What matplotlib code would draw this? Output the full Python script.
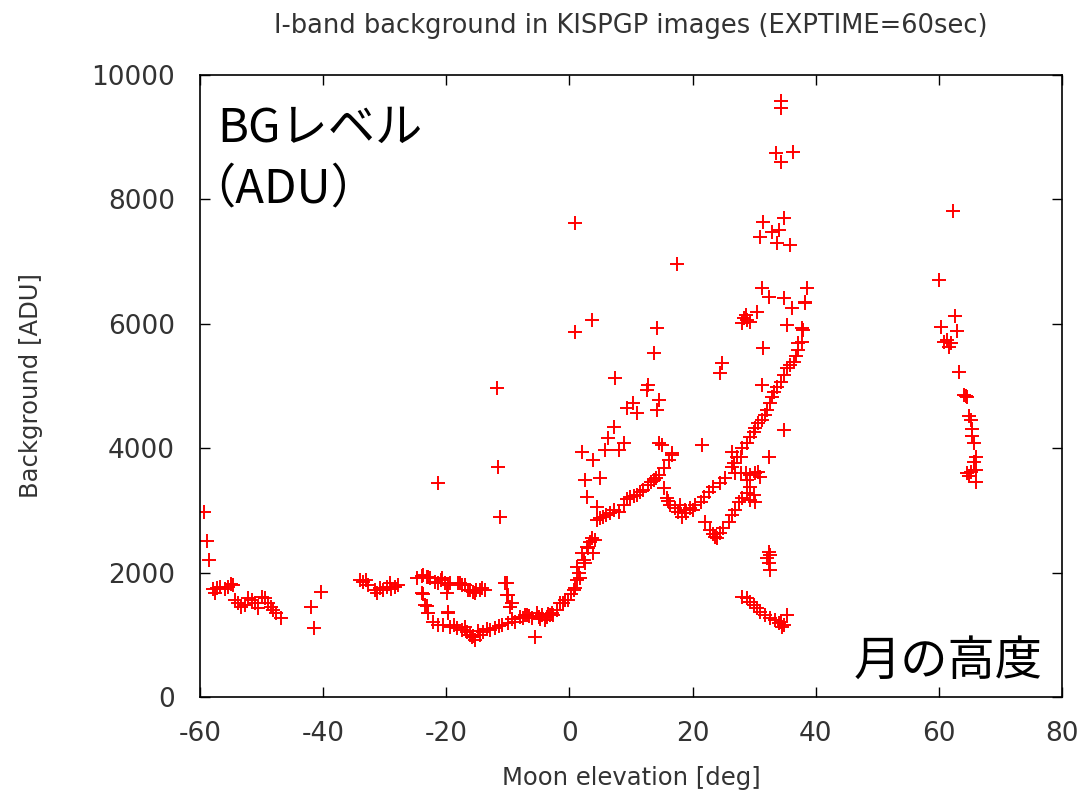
import matplotlib
matplotlib.use("Agg")
import matplotlib.pyplot as plt

# Moon elevation [deg] and background [ADU]
elev_left = [-59.4, -58.9, -58.6, -57.9, -57.3, -57.5, -56.8, -56.0, -55.5, -55.0, -54.6,
             -54.3, -53.8, -53.3, -52.7, -52.2, -51.6, -51.1, -50.6, -50.0, -49.5, -49.0,
             -48.4, -48.2, -47.6, -46.9, -41.9, -41.5, -40.4,
             -34.0, -33.5, -33.0, -32.7, -31.6, -31.3, -30.8, -30.3, -29.7, -29.2, -28.9,
             -28.3, -27.9]
bg_left = [2980, 2510, 2200, 1740, 1750, 1670, 1770, 1740, 1770, 1820, 1800,
           1560, 1510, 1450, 1480, 1590, 1560, 1510, 1430, 1610, 1590, 1510,
           1450, 1400, 1350, 1270, 1450, 1110, 1690,
           1880, 1850, 1880, 1800, 1720, 1670, 1750, 1720, 1770, 1830, 1740,
           1770, 1800]

elev_upper = [-24.8, -24.0, -23.7, -23.2, -22.9, -22.6, -21.8, -21.3, -20.8, -20.7, -20.2,
              -19.7, -19.4, -18.1, -17.8, -17.5, -17.0, -16.5, -16.1, -15.7, -15.3, -15.1,
              -14.5, -14.2, -13.7]
bg_upper = [1920, 1950, 1960, 1930, 1930, 1910, 1850, 1830, 1880, 1910, 1830,
            1800, 1830, 1830, 1830, 1800, 1800, 1720, 1720, 1690, 1670, 1720,
            1720, 1750, 1720]

elev_lower = [-24.0, -23.8, -23.5, -23.2, -23.0, -22.9, -22.2, -21.3, -20.5, -19.9, -19.7,
              -19.7, -19.4, -18.3, -17.5, -16.7, -15.9, -15.3, -14.5, -14.0, -12.9, -12.1,
              -11.0, -10.0, -8.8, -8.0, -7.5, -7.2, -6.9, -6.1, -5.3, -5.0, -4.5, -4.0,
              -3.7, -3.1, -2.9, -2.6, -2.0, -1.5, -1.0, -0.7, -0.2,
              -18.8, -17.0, -16.2, -15.6, -14.8, -13.4, -11.5, -9.4, -6.5, -4.8, -3.4]
bg_lower = [1670, 1660, 1480, 1460, 1350, 1350, 1210, 1160, 1160, 1670, 1350,
            1370, 1130, 1110, 1080, 1050, 960, 920, 1000, 1050, 1080, 1110,
            1160, 1190, 1210, 1290, 1270, 1320, 1320, 1270, 1350, 1290, 1320, 1240,
            1290, 1320, 1350, 1320, 1400, 1510, 1510, 1560, 1560,
            1150, 1120, 1000, 980, 1060, 1100, 1140, 1250, 1300, 1250, 1330]

elev_scatter = [-21.3, -11.6, -11.3, -10.5, -10.2, -10.2, -10.0, -9.6, -9.4, -5.6,
                2.0, 3.9, 2.6, 5.0, 2.8, 4.5, 5.8, 6.3, 7.2, 8.0, 8.8, 9.3, 10.4, 11.0,
                12.6, 12.8, 14.5, 14.2, 13.7, 14.2, 7.4, 14.5, 15.0, 16.7,
                0.9, 3.6, 0.9, 17.4, 21.5, 24.8, 24.5, -11.8]
bg_scatter = [3440, 3700, 2900, 1830, 1830, 1640, 1640, 1450, 1510, 960,
              3940, 3810, 3490, 3520, 3220, 3060, 3970, 4160, 4340, 3970, 4080, 4650, 4730, 4570,
              4940, 5020, 4780, 4620, 5530, 5930, 5130, 4080, 4050, 3890,
              5870, 6060, 7620, 6960, 4050, 5370, 5210, 4960]

elev_rise = [0.7, 0.9, 1.2, 1.2, 1.7, 2.0, 2.3, 2.8, 3.4, 3.9, 4.2, 4.5, 5.5, 6.6, 8.0,
             8.8, 9.9, 11.0, 12.0, 12.8, 13.7, 14.5, 15.3, 16.1, 16.7,
             0.3, 1.5, 2.5, 3.0, 3.6, 5.0, 6.0, 7.3, 9.3, 10.5, 11.5, 13.2, 14.0]
bg_rise = [1720, 1750, 1880, 2090, 1910, 2310, 2200, 2410, 2490, 2310, 2520, 2850, 2900, 2960, 2980,
           3090, 3220, 3250, 3330, 3410, 3490, 3570, 3680, 3810, 3920,
           1650, 2000, 2150, 2400, 2550, 2870, 2930, 3000, 3180, 3230, 3300, 3450, 3520]

elev_dip = [15.3, 15.8, 16.4, 17.2, 18.3, 18.8, 19.6, 20.4, 21.3, 21.8, 22.6, 23.4, 24.5,
            25.3, 26.4, 27.2, 26.4, 28.0, 28.8, 29.4, 29.9, 30.7, 31.3, 32.1, 32.6, 32.9,
            33.7, 34.3, 34.8, 35.3, 35.9, 36.4, 37.2, 37.8, 37.9, 38.3, 38.6,
            16.0, 17.6, 18.0, 19.0, 20.0, 30.2, 31.8, 33.2, 36.8]
bg_dip = [3360, 3200, 3090, 3040, 2900, 3010, 3040, 3090, 3140, 3220, 3300, 3380, 3440,
          3520, 3700, 3860, 3940, 4000, 4080, 4180, 4260, 4410, 4450, 4620, 4730, 4830,
          4990, 5070, 5180, 5290, 5340, 5390, 5580, 5710, 5900, 6350, 6570,
          3150, 2980, 3080, 2950, 3000, 4330, 4540, 4910, 5480]

elev_dip2 = [22.1, 22.9, 23.7, 24.5, 25.0, 25.9, 26.4, 26.9, 27.5, 28.0, 28.8, 29.4, 30.2,
             29.9, 29.4, 28.8, 28.6, 27.8, 26.9, 26.7, 27.8, 29.4, 30.2, 30.7, 31.0, 23.3, 24.0]
bg_dip2 = [2810, 2690, 2580, 2640, 2720, 2810, 2930, 3010, 3140, 3200, 3280, 3170, 3140,
           3250, 3380, 3490, 3600, 3600, 3600, 3760, 3860, 3570, 3600, 3620, 3540, 2620, 2560]

elev_high = [31.5, 34.8, 32.9, 34.0, 31.0, 33.7, 35.9, 31.3, 32.4, 34.8, 36.2, 38.3, 30.5,
             28.3, 28.0, 28.8, 28.6, 29.4, 35.3, 37.8, 31.5, 31.3, 34.8, 32.4, 37.2,
             34.3, 34.4, 33.6, 34.4, 36.3]
bg_high = [7640, 7700, 7480, 7510, 7400, 7300, 7270, 6570, 6430, 6420, 6250, 6330, 6190,
           6090, 6010, 6060, 6140, 6030, 5980, 5930, 5610, 5020, 4290, 3860, 5690,
           9580, 9470, 8750, 8600, 8760]

elev_low = [32.4, 32.6, 32.1, 32.4, 32.6,
            28.0, 28.8, 29.4, 29.9, 30.5, 31.0, 31.8, 32.6, 33.4, 34.3, 34.8, 35.3, 34.5, 34.0]
bg_low = [2330, 2280, 2230, 2150, 2040,
          1610, 1590, 1530, 1480, 1430, 1370, 1320, 1270, 1240, 1210, 1160, 1320, 1130, 1190]

elev_right = [62.3, 60.1, 62.7, 60.4, 63.0, 60.8, 61.4, 61.9, 61.6, 63.3, 64.1, 64.6, 64.9,
              65.2, 65.4, 65.4, 65.7, 66.0, 65.7, 64.6, 65.2, 66.0, 66.0, 64.9, 64.4]
bg_right = [7820, 6710, 6120, 5950, 5890, 5700, 5740, 5690, 5630, 5220, 4860, 4820, 4510,
            4450, 4310, 4200, 4080, 3860, 3780, 3600, 3620, 3650, 3460, 3550, 4840]

elev = (elev_left + elev_upper + elev_lower + elev_scatter + elev_rise + elev_dip +
        elev_dip2 + elev_high + elev_low + elev_right)
bg = (bg_left + bg_upper + bg_lower + bg_scatter + bg_rise + bg_dip +
      bg_dip2 + bg_high + bg_low + bg_right)

xticks = [-60, -40, -20, 0, 20, 40, 60, 80]
yticks = [0, 2000, 4000, 6000, 8000, 10000]

plt.rcParams['font.family'] = ['DejaVu Sans']
plt.rcParams['axes.unicode_minus'] = False
fig = plt.figure(figsize=(10.85, 7.97), dpi=100)
ax = fig.add_axes([0.1843, 0.1255, 0.9788 - 0.1843, 0.9059 - 0.1255])

ax.plot(elev, bg, linestyle='none', marker='+', color='red', markersize=9.5, markeredgewidth=1.4)

ax.set_xlim(-60, 80)
ax.set_ylim(0, 10000)
ax.set_xticks(xticks)
ax.set_yticks(yticks)
ax.tick_params(direction='in', length=7, width=1, top=True, right=True,
               labelsize=19, colors='black', labelcolor='#333333')
ax.tick_params(axis='x', pad=17)
ax.tick_params(axis='y', pad=18)
for s in ax.spines.values():
    s.set_linewidth(1.2)

ax.set_title('I-band background in KISPGP images (EXPTIME=60sec)', fontsize=18.5,
             color='#333333', pad=30)
ax.set_xlabel('Moon elevation [deg]', fontsize=17.5, color='#333333', labelpad=14)
ax.set_ylabel('Background [ADU]', fontsize=17.5, color='#333333', labelpad=35)

jp = ['Noto Sans CJK JP', 'DejaVu Sans']
ax.text(0.02, 0.953, 'BGレベル', transform=ax.transAxes, fontsize=34,
        family=jp, color='black', va='top', ha='left')
ax.text(-0.014, 0.856, '（ADU）', transform=ax.transAxes, fontsize=34,
        family=jp, color='black', va='top', ha='left')
ax.text(0.977, 0.018, '月の高度', transform=ax.transAxes, fontsize=34,
        family=jp, color='black', va='bottom', ha='right')

fig.savefig('out.png', dpi=100)
